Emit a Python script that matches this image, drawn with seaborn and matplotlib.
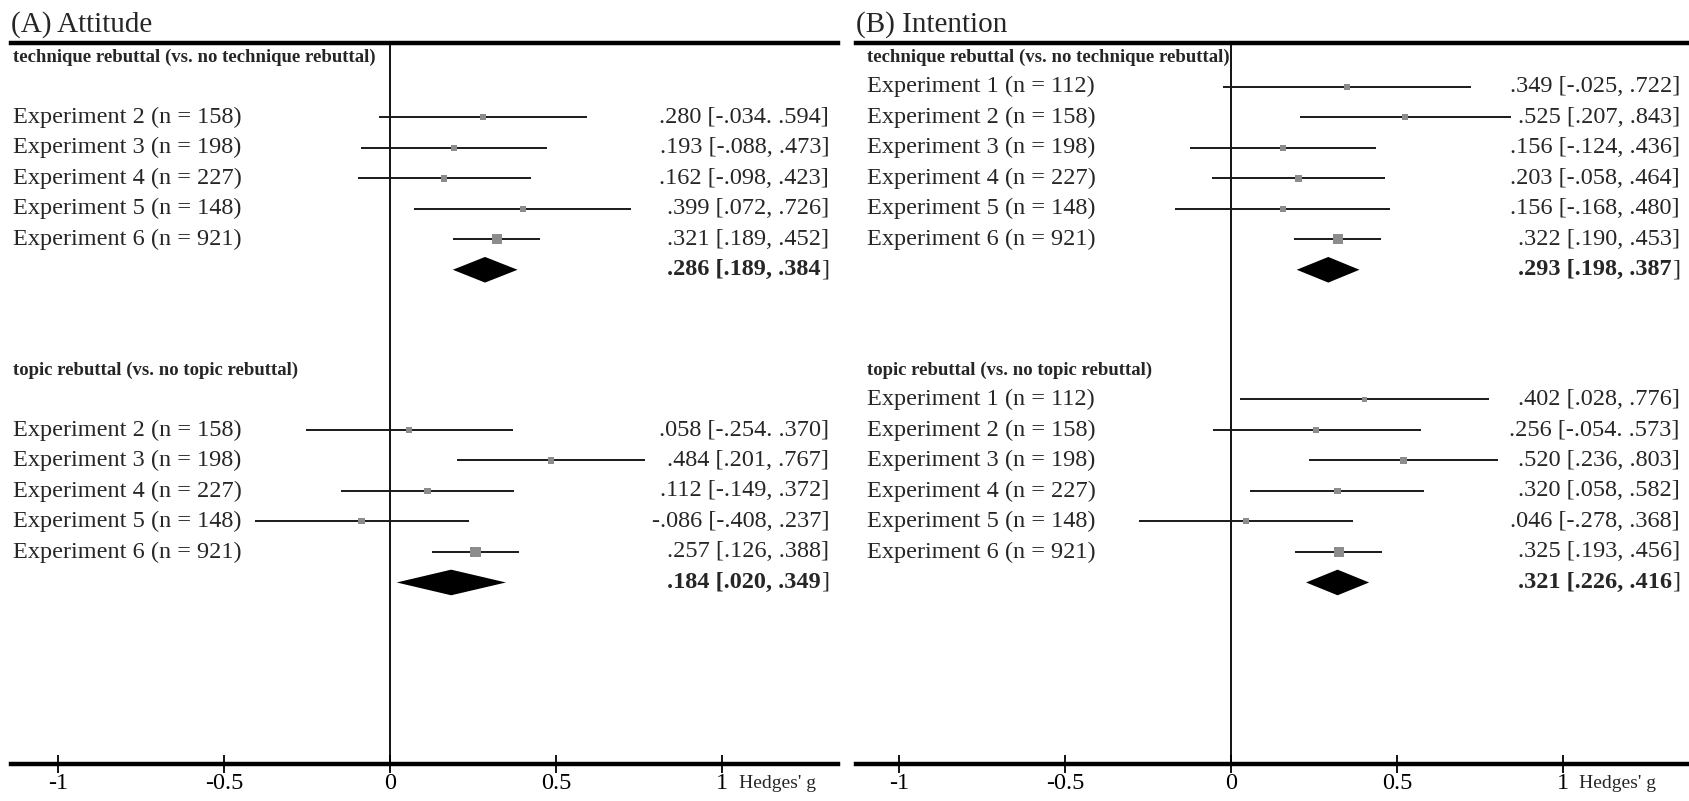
import numpy as np
import pandas as pd
import seaborn as sns
import matplotlib.pyplot as plt
from matplotlib.transforms import blended_transform_factory

# ---- (A) Attitude ----
att_tech_exp = [2, 3, 4, 5, 6]
att_tech_n = [158, 198, 227, 148, 921]
att_tech_g = [0.280, 0.193, 0.162, 0.399, 0.321]
att_tech_lo = [-0.034, -0.088, -0.098, 0.072, 0.189]
att_tech_hi = [0.594, 0.473, 0.423, 0.726, 0.452]
att_tech_txt = [".280 [-.034. .594]", ".193 [-.088, .473]", ".162 [-.098, .423]",
                ".399 [.072, .726]", ".321 [.189, .452]"]
att_tech_pool = [0.286, 0.189, 0.384]

att_topic_exp = [2, 3, 4, 5, 6]
att_topic_n = [158, 198, 227, 148, 921]
att_topic_g = [0.058, 0.484, 0.112, -0.086, 0.257]
att_topic_lo = [-0.254, 0.201, -0.149, -0.408, 0.126]
att_topic_hi = [0.370, 0.767, 0.372, 0.237, 0.388]
att_topic_txt = [".058 [-.254. .370]", ".484 [.201, .767]", ".112 [-.149, .372]",
                 "-.086 [-.408, .237]", ".257 [.126, .388]"]
att_topic_pool = [0.184, 0.020, 0.349]

# ---- (B) Intention ----
int_tech_exp = [1, 2, 3, 4, 5, 6]
int_tech_n = [112, 158, 198, 227, 148, 921]
int_tech_g = [0.349, 0.525, 0.156, 0.203, 0.156, 0.322]
int_tech_lo = [-0.025, 0.207, -0.124, -0.058, -0.168, 0.190]
int_tech_hi = [0.722, 0.843, 0.436, 0.464, 0.480, 0.453]
int_tech_txt = [".349 [-.025, .722]", ".525 [.207, .843]", ".156 [-.124, .436]",
                ".203 [-.058, .464]", ".156 [-.168, .480]", ".322 [.190, .453]"]
int_tech_pool = [0.293, 0.198, 0.387]

int_topic_exp = [1, 2, 3, 4, 5, 6]
int_topic_n = [112, 158, 198, 227, 148, 921]
int_topic_g = [0.402, 0.256, 0.520, 0.320, 0.046, 0.325]
int_topic_lo = [0.028, -0.054, 0.236, 0.058, -0.278, 0.193]
int_topic_hi = [0.776, 0.573, 0.803, 0.582, 0.368, 0.456]
int_topic_txt = [".402 [.028, .776]", ".256 [-.054. .573]", ".520 [.236, .803]",
                 ".320 [.058, .582]", ".046 [-.278, .368]", ".325 [.193, .456]"]
int_topic_pool = [0.321, 0.226, 0.416]

tech_heading = "technique rebuttal (vs. no technique rebuttal)"
topic_heading = "topic rebuttal (vs. no topic rebuttal)"
xticks = [-1, -0.5, 0, 0.5, 1]
xticklabels = ["-1", "-0.5", "0", "0.5", "1"]

sns.set_style("white")
plt.rcParams['font.family'] = ['Liberation Serif', 'DejaVu Serif']

FS = 17.5
TOPIC_OFFSET = 10.25


def fmt(v):
    s = f"{v:.3f}"
    return s.replace("0.", ".", 1)


def draw_block(ax, heading, exps, n, g, lo, hi, txt, pool, offset, xlab, xtxt):
    rows = [e - 1 + offset for e in exps]
    ax.text(xlab, offset - 0.95, heading, fontsize=13.5, fontweight='bold',
            ha='left', va='center')
    ax.hlines(rows, lo, hi, color='#1a1a1a', lw=1.4, zorder=2)
    df = pd.DataFrame({'g': g, 'row': rows, 'n': n})
    sns.scatterplot(data=df, x='g', y='row', size='n', sizes=(17, 58),
                    size_norm=(100, 1000), marker='s', color='#8c8c8c',
                    linewidth=0, legend=False, ax=ax, zorder=3)
    for e, r, t in zip(exps, rows, txt):
        n_i = n[exps.index(e)]
        ax.text(xlab, r, f"Experiment {e} (n = {n_i})", fontsize=FS,
                ha='left', va='center')
        ax.text(xtxt, r, t, fontsize=FS, ha='right', va='center')
    # pooled estimate diamond
    pg, plo, phi = pool
    pr = 6 + offset
    h = 0.42
    ax.fill([plo, pg, phi, pg], [pr, pr - h, pr, pr + h], color='black',
            lw=0, zorder=3)
    ax.annotate(f"{fmt(pg)} [{fmt(plo)}, {fmt(phi)}", xy=(xtxt, pr),
                xytext=(-5.8, 0), textcoords='offset points', fontsize=FS,
                fontweight='bold', ha='right', va='center')
    ax.text(xtxt, pr, "]", fontsize=FS, ha='right', va='center')


def draw_panel(ax, title, xlim, xlab, xtxt, xhg, blocks):
    ax.set_xlim(*xlim)
    ax.set_ylim(22.2, -1.43)
    ax.axvline(0, color='black', lw=1.3, zorder=1)
    for b in blocks:
        draw_block(ax, *b, xlab=xlab, xtxt=xtxt)
    for s in ['left', 'right']:
        ax.spines[s].set_visible(False)
    for s in ['top', 'bottom']:
        ax.spines[s].set_visible(True)
        ax.spines[s].set_linewidth(3.2)
        ax.spines[s].set_color('black')
    ax.set_yticks([])
    ax.set_xticks(xticks)
    ax.set_xticklabels(xticklabels)
    ax.tick_params(axis='x', direction='inout', length=13, width=1.3,
                   pad=0, labelsize=17.5, bottom=True, colors='black')
    ax.set_xlabel("")
    ax.set_ylabel("")
    ax.set_title(title, loc='left', fontsize=21, pad=8)
    trans = blended_transform_factory(ax.transData, ax.transAxes)
    ax.annotate("Hedges' g", xy=(xhg, 0), xycoords=trans, xytext=(0, -14.4),
                textcoords='offset points', fontsize=14, ha='left', va='center')


fig = plt.figure(figsize=(16.9, 8.01), dpi=100)
ax1 = fig.add_axes([11 / 1690, 0.0462, 827 / 1690, 0.900])
ax2 = fig.add_axes([856 / 1690, 0.0462, 834 / 1690, 0.900])

draw_panel(ax1, "(A) Attitude", (-1.1416, 1.349), -1.135, 1.322, 1.051, [
    (tech_heading, att_tech_exp, att_tech_n, att_tech_g, att_tech_lo, att_tech_hi,
     att_tech_txt, att_tech_pool, 0),
    (topic_heading, att_topic_exp, att_topic_n, att_topic_g, att_topic_lo,
     att_topic_hi, att_topic_txt, att_topic_pool, TOPIC_OFFSET),
])
draw_panel(ax2, "(B) Intention", (-1.1295, 1.3825), -1.096, 1.352, 1.048, [
    (tech_heading, int_tech_exp, int_tech_n, int_tech_g, int_tech_lo, int_tech_hi,
     int_tech_txt, int_tech_pool, 0),
    (topic_heading, int_topic_exp, int_topic_n, int_topic_g, int_topic_lo,
     int_topic_hi, int_topic_txt, int_topic_pool, TOPIC_OFFSET),
])

fig.savefig("out.png", dpi=100)
